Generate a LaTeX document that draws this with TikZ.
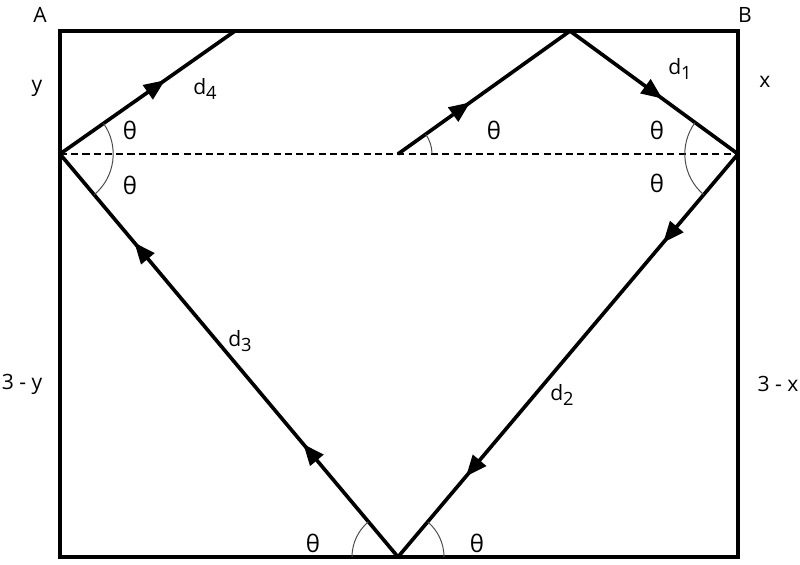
\documentclass[tikz,border=0pt]{standalone}
\usepackage{fontspec}
\setmainfont{Open Sans}
\usetikzlibrary{decorations.markings,arrows.meta}

\tikzset{
 wall/.style={line width=3.4pt, line join=miter},
 ray/.style={line width=2.6pt},
 arrowat/.style={postaction={decorate, decoration={markings,
   mark=at position #1 with {\arrow{Triangle[length=15pt,width=12pt]}}}}},
 anglearc/.style={draw=black!70, line width=0.7pt},
 lbl/.style={font=\fontsize{15}{17}\selectfont, inner sep=0pt},
 theta/.style={font=\fontsize{17}{19}\selectfont, inner sep=0pt},
}
\newcommand{\dsub}[1]{d\raisebox{-0.45ex}{\fontsize{13}{15}\selectfont #1}}

\begin{document}
\begin{tikzpicture}
 \useasboundingbox (0,0) rectangle (20,14.125);
 % box and reflection points
 \coordinate (SW) at (1.5,0.2);
 \coordinate (NE) at (18.45,13.35);
 \coordinate (start) at (9.95,10.275);
 \coordinate (hitTop) at (14.25,13.35);
 \coordinate (hitRight) at (18.45,10.275);
 \coordinate (hitBottom) at (9.95,0.2);
 \coordinate (hitLeft) at (1.5,10.275);
 \coordinate (exitTop) at (5.875,13.35);

 \draw[wall] (SW) rectangle (NE);
 \draw[dash pattern=on 5pt off 3pt, line width=0.8pt] (hitLeft) -- (hitRight);

 % path of the ray
 \draw[ray, arrowat=0.42] (start) -- (hitTop);
 \draw[ray, arrowat=0.55] (hitTop) -- (hitRight);
 \draw[ray, arrowat=0.22, arrowat=0.8] (hitRight) -- (hitBottom);
 \draw[ray, arrowat=0.28, arrowat=0.78] (hitBottom) -- (hitLeft);
 \draw[ray, arrowat=0.6] (hitLeft) -- (exitTop);

 % angles
 \draw[anglearc] ([shift={(35.1:1.33)}]hitLeft) arc[start angle=35.1, end angle=-50, radius=1.33];
 \draw[anglearc] ([shift={(143.8:1.33)}]hitRight) arc[start angle=143.8, end angle=229.8, radius=1.33];
 \draw[anglearc] ([shift={(0:0.85)}]start) arc[start angle=0, end angle=35.6, radius=0.85];
 \draw[anglearc] ([shift={(180:1.15)}]hitBottom) arc[start angle=180, end angle=130, radius=1.15];
 \draw[anglearc] ([shift={(0:1.15)}]hitBottom) arc[start angle=0, end angle=49.8, radius=1.15];

 % labels
 \node[lbl] (labA) at (1.0,13.75) {A};
 \node[lbl] (labB) at (18.625,13.75) {B};
 \node[lbl] (labY) at (0.925,11.925) {y};
 \node[lbl] (labX) at (19.125,12.075) {x};
 \node[lbl] (labRestY) at (0.55,4.525) {3 - y};
 \node[lbl] (labRestX) at (19.45,4.525) {3 - x};
 \node[lbl] (labD1) at (17.0,12.4) {\dsub{1}};
 \node[lbl] (labD2) at (14.05,4.25) {\dsub{2}};
 \node[lbl] (labD3) at (6.0,5.6) {\dsub{3}};
 \node[lbl] (labD4) at (5.125,11.9) {\dsub{4}};
 \node[theta] (thLeftUp) at (3.25,10.875) {θ};
 \node[theta] (thLeftDown) at (3.25,9.5) {θ};
 \node[theta] (thStart) at (12.35,10.875) {θ};
 \node[theta] (thRightUp) at (16.425,10.875) {θ};
 \node[theta] (thRightDown) at (16.425,9.55) {θ};
 \node[theta] (thBotLeft) at (7.825,0.55) {θ};
 \node[theta] (thBotRight) at (11.925,0.55) {θ};
\end{tikzpicture}
\end{document}
